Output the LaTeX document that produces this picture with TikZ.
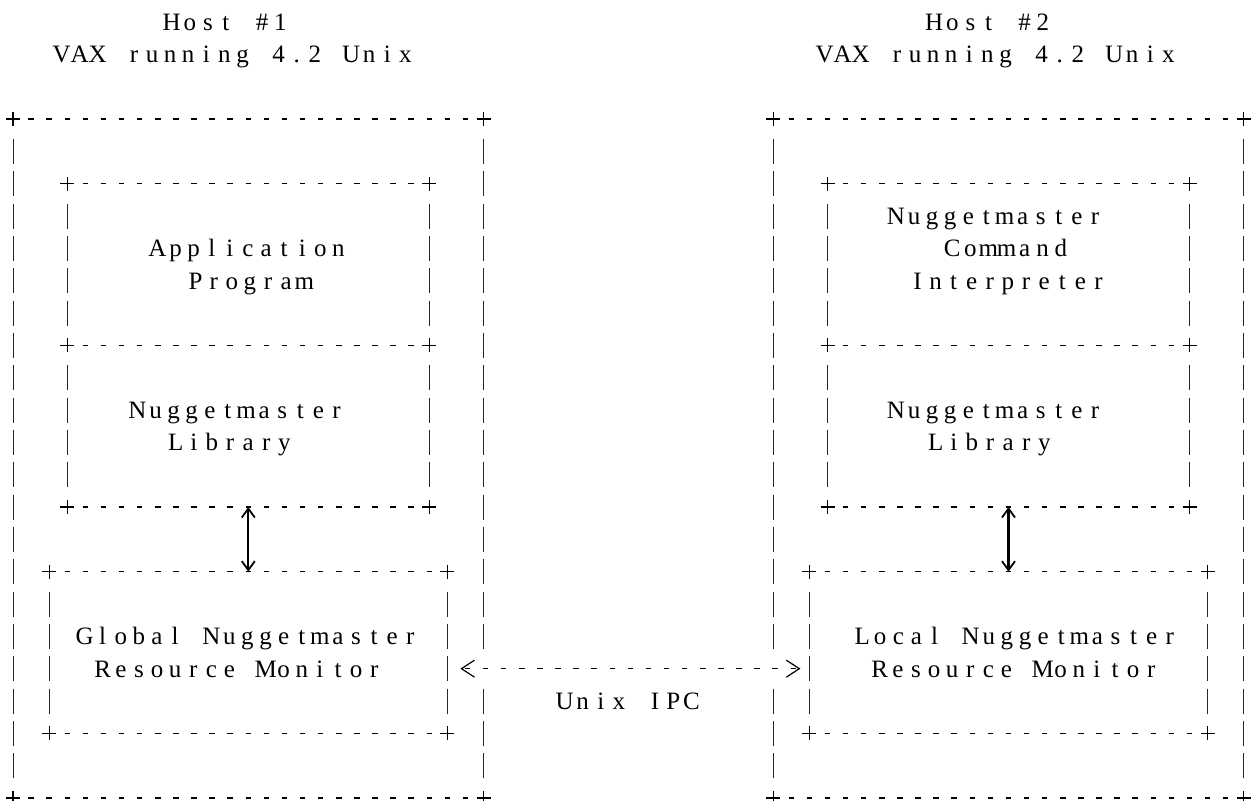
\documentclass[tikz,border=0pt]{standalone}
\usepackage{fontspec}
\setmainfont{Liberation Serif}
\usetikzlibrary{arrows.meta,calc,fit}
\newlength\pitchw
\setlength\pitchw{18.1pt}
\newcommand\mc[1]{\makebox[\pitchw][c]{#1}}
\ExplSyntaxOn
\NewDocumentCommand\mono{m}{\str_map_inline:nn {#1} {\makebox[\pitchw][c]{##1}}}
\ExplSyntaxOff
\newcommand\cx[1]{13+18.1*#1}
\newcommand\ry[1]{22+32.333*#1}
\tikzset{
  txt/.style={anchor=base, inner sep=0pt, font=\fontsize{25}{30}\selectfont},
  boxn/.style={inner sep=0pt, outer sep=0pt, draw=none},
  hline/.style={line width=1.2pt, dash pattern=on 5.5pt off 12.6pt},
  vline/.style={line width=1pt, black!85, dash pattern=on 25pt off 7.333pt},
  plus/.style={line width=1.2pt},
  dblarrow/.style={line width=2.2pt, {Straight Barb[length=9pt,width=13pt,line width=1.8pt]}-{Straight Barb[length=9pt,width=13pt,line width=1.8pt]}},
  ipcarrow/.style={line width=1.2pt, dash pattern=on 5.5pt off 12.6pt, dash phase=15.5pt,
    {Straight Barb[length=13pt,width=17pt]}-{Straight Barb[length=13pt,width=17pt]},
    shorten <=13pt, shorten >=9pt}
}
\newcommand\hedges[1]{%
  \draw[hline] ($(#1.north west)+(15.3,0)$) -- ($(#1.north east)+(-15.3,0)$);
  \draw[hline] ($(#1.south west)+(15.3,0)$) -- ($(#1.south east)+(-15.3,0)$);
  \foreach \a in {north west,north east,south west,south east}
    \draw[plus] (#1.\a) +(-7,0) -- +(7,0) (#1.\a) +(0,-7) -- +(0,7);
}
\newcommand\vedge[2]{% node, side anchor (west/east)
  \draw[vline] ($(#1.north #2)+(0,19.833)$) -- ($(#1.south #2)+(0,-19.833)$);
}
\newcommand\vedgegap[2]{%
  \draw[vline] ($(#1.north #2)+(0,19.833)$) -- ($(#1.north #2)+(0,529.83)$);
  \draw[vline] ($(#1.south #2)+(0,-109.5)$) -- ($(#1.south #2)+(0,-19.833)$);
}
\newcommand\asciibox[1]{\hedges{#1}\vedge{#1}{west}\vedge{#1}{east}}
\begin{document}
\begin{tikzpicture}[x=1pt,y=-1pt]
\useasboundingbox (0,0) rectangle (1254,801);
% corner coordinates
\coordinate (o1a) at ({\cx{0}},{\ry{3}});   \coordinate (o1b) at ({\cx{26}},{\ry{24}});
\coordinate (apa) at ({\cx{3}},{\ry{5}});   \coordinate (apb) at ({\cx{23}},{\ry{10}});
\coordinate (l1a) at ({\cx{3}},{\ry{10}});  \coordinate (l1b) at ({\cx{23}},{\ry{15}});
\coordinate (gma) at ({\cx{2}},{\ry{17}});  \coordinate (gmb) at ({\cx{24}},{\ry{22}});
\coordinate (o2a) at ({\cx{42}},{\ry{3}});  \coordinate (o2b) at ({\cx{68}},{\ry{24}});
\coordinate (cma) at ({\cx{45}},{\ry{5}});  \coordinate (cmb) at ({\cx{65}},{\ry{10}});
\coordinate (l2a) at ({\cx{45}},{\ry{10}}); \coordinate (l2b) at ({\cx{65}},{\ry{15}});
\coordinate (lma) at ({\cx{44}},{\ry{17}}); \coordinate (lmb) at ({\cx{66}},{\ry{22}});
% box nodes
\node[boxn, fit=(o1a)(o1b)] (outer1) {};
\node[boxn, fit=(apa)(apb)] (app) {};
\node[boxn, fit=(l1a)(l1b)] (lib1) {};
\node[boxn, fit=(gma)(gmb)] (gmon) {};
\node[boxn, fit=(o2a)(o2b)] (outer2) {};
\node[boxn, fit=(cma)(cmb)] (cmd) {};
\node[boxn, fit=(l2a)(l2b)] (lib2) {};
\node[boxn, fit=(lma)(lmb)] (lmon) {};
% borders
\hedges{outer1}\vedge{outer1}{west}\vedgegap{outer1}{east}
\hedges{outer2}\vedgegap{outer2}{west}\vedge{outer2}{east}
\asciibox{app}\asciibox{lib1}\asciibox{gmon}
\asciibox{cmd}\asciibox{lib2}\asciibox{lmon}
% texts left
\node[txt] (h1a) at (226,{\ry{0}+8.5}) {\mono{Host }\mc{\#}\mono{1}};
\node[txt] (h1b) at (233.5,{\ry{1}+8.5}) {\mono{VAX running 4.2 Unix}};
\node[txt] (ap1) at (248,{\ry{7}+8.5}) {\mono{Application}};
\node[txt] (ap2) at (250,{\ry{8}+8.5}) {\mono{Program}};
\node[txt] (nl1) at (237,{\ry{12}+8.5}) {\mono{Nuggetmaster}};
\node[txt] (nl2) at (230,{\ry{13}+8.5}) {\mono{Library}};
\node[txt] (gm1) at (247.5,{\ry{19}+8.5}) {\mono{Global Nuggetmaster}};
\node[txt] (gm2) at (238.5,{\ry{20}+8.5}) {\mono{Resource Monitor}};
\node[txt] (ipc) at (628,{\ry{21}+8.5}) {\mono{Unix IPC}};
% texts right
\node[txt] (h2a) at (988.5,{\ry{0}+8.5}) {\mono{Host }\mc{\#}\mono{2}};
\node[txt] (h2b) at (996.5,{\ry{1}+8.5}) {\mono{VAX running 4.2 Unix}};
\node[txt] (ci1) at (995.5,{\ry{6}+8.5}) {\mono{Nuggetmaster}};
\node[txt] (ci2) at (1006.5,{\ry{7}+8.5}) {\mono{Command}};
\node[txt] (ci3) at (1008,{\ry{8}+8.5}) {\mono{Interpreter}};
\node[txt] (nr1) at (995.5,{\ry{12}+8.5}) {\mono{Nuggetmaster}};
\node[txt] (nr2) at (990,{\ry{13}+8.5}) {\mono{Library}};
\node[txt] (lm1) at (1016,{\ry{19}+8.5}) {\mono{Local Nuggetmaster}};
\node[txt] (lm2) at (1015.5,{\ry{20}+8.5}) {\mono{Resource Monitor}};
% connectors
\draw[dblarrow] (lib1.south) -- (gmon.north);
\draw[dblarrow] (lib2.south) -- (lmon.north);
\draw[ipcarrow] ($(gmon.north east)!0.6!(gmon.south east)$) -- ($(lmon.north west)!0.6!(lmon.south west)$);
\end{tikzpicture}
\end{document}
